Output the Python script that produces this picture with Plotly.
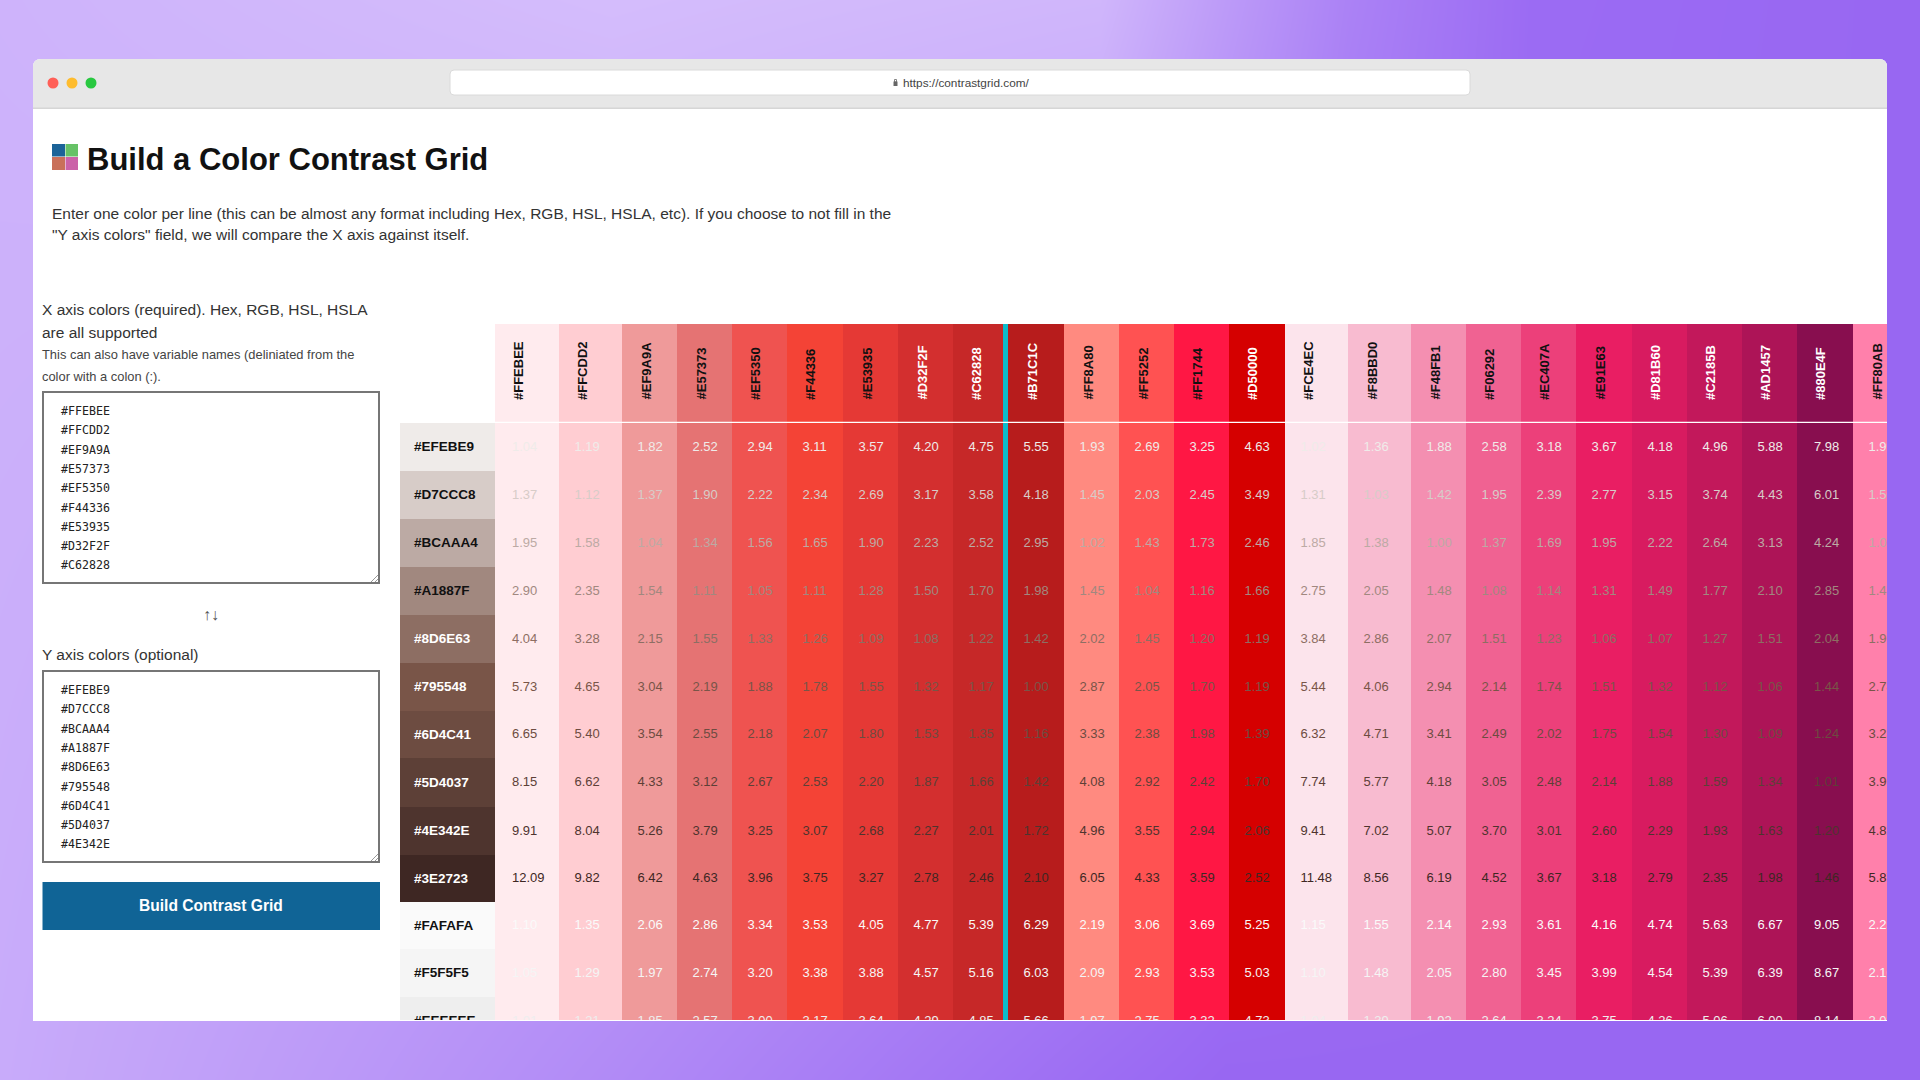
import plotly.graph_objects as go

# colors under test, x axis then y axis
col_colors = ['#FFEBEE', '#FFCDD2', '#EF9A9A', '#E57373', '#EF5350', '#F44336', '#E53935', '#D32F2F', '#C62828',
              '#B71C1C', '#FF8A80', '#FF5252', '#FF1744', '#D50000', '#FCE4EC', '#F8BBD0', '#F48FB1', '#F06292',
              '#EC407A', '#E91E63', '#D81B60', '#C2185B', '#AD1457', '#880E4F', '#FF80AB']
row_colors = ['#EFEBE9', '#D7CCC8', '#BCAAA4', '#A1887F', '#8D6E63', '#795548', '#6D4C41', '#5D4037', '#4E342E',
              '#3E2723', '#FAFAFA', '#F5F5F5', '#EEEEEE']

# contrast ratios, one list per row
r_efebe9 = [1.04, 1.19, 1.82, 2.52, 2.94, 3.11, 3.57, 4.20, 4.75, 5.55, 1.93, 2.69, 3.25, 4.63, 1.02, 1.36, 1.88, 2.58, 3.18, 3.67, 4.18, 4.96, 5.88, 7.98, 1.99]
r_d7ccc8 = [1.37, 1.12, 1.37, 1.90, 2.22, 2.34, 2.69, 3.17, 3.58, 4.18, 1.45, 2.03, 2.45, 3.49, 1.31, 1.03, 1.42, 1.95, 2.39, 2.77, 3.15, 3.74, 4.43, 6.01, 1.50]
r_bcaaa4 = [1.95, 1.58, 1.04, 1.34, 1.56, 1.65, 1.90, 2.23, 2.52, 2.95, 1.02, 1.43, 1.73, 2.46, 1.85, 1.38, 1.00, 1.37, 1.69, 1.95, 2.22, 2.64, 3.13, 4.24, 1.05]
r_a1887f = [2.90, 2.35, 1.54, 1.11, 1.05, 1.11, 1.28, 1.50, 1.70, 1.98, 1.45, 1.04, 1.16, 1.66, 2.75, 2.05, 1.48, 1.08, 1.14, 1.31, 1.49, 1.77, 2.10, 2.85, 1.41]
r_8d6e63 = [4.04, 3.28, 2.15, 1.55, 1.33, 1.26, 1.09, 1.08, 1.22, 1.42, 2.02, 1.45, 1.20, 1.19, 3.84, 2.86, 2.07, 1.51, 1.23, 1.06, 1.07, 1.27, 1.51, 2.04, 1.96]
r_795548 = [5.73, 4.65, 3.04, 2.19, 1.88, 1.78, 1.55, 1.32, 1.17, 1.00, 2.87, 2.05, 1.70, 1.19, 5.44, 4.06, 2.94, 2.14, 1.74, 1.51, 1.32, 1.12, 1.06, 1.44, 2.78]
r_6d4c41 = [6.65, 5.40, 3.54, 2.55, 2.18, 2.07, 1.80, 1.53, 1.35, 1.16, 3.33, 2.38, 1.98, 1.39, 6.32, 4.71, 3.41, 2.49, 2.02, 1.75, 1.54, 1.30, 1.09, 1.24, 3.23]
r_5d4037 = [8.15, 6.62, 4.33, 3.12, 2.67, 2.53, 2.20, 1.87, 1.66, 1.42, 4.08, 2.92, 2.42, 1.70, 7.74, 5.77, 4.18, 3.05, 2.48, 2.14, 1.88, 1.59, 1.34, 1.01, 3.96]
r_4e342e = [9.91, 8.04, 5.26, 3.79, 3.25, 3.07, 2.68, 2.27, 2.01, 1.72, 4.96, 3.55, 2.94, 2.06, 9.41, 7.02, 5.07, 3.70, 3.01, 2.60, 2.29, 1.93, 1.63, 1.20, 4.82]
r_3e2723 = [12.09, 9.82, 6.42, 4.63, 3.96, 3.75, 3.27, 2.78, 2.46, 2.10, 6.05, 4.33, 3.59, 2.52, 11.48, 8.56, 6.19, 4.52, 3.67, 3.18, 2.79, 2.35, 1.98, 1.46, 5.87]
r_fafafa = [1.10, 1.35, 2.06, 2.86, 3.34, 3.53, 4.05, 4.77, 5.39, 6.29, 2.19, 3.06, 3.69, 5.25, 1.15, 1.55, 2.14, 2.93, 3.61, 4.16, 4.74, 5.63, 6.67, 9.05, 2.25]
r_f5f5f5 = [1.05, 1.29, 1.97, 2.74, 3.20, 3.38, 3.88, 4.57, 5.16, 6.03, 2.09, 2.93, 3.53, 5.03, 1.10, 1.48, 2.05, 2.80, 3.45, 3.99, 4.54, 5.39, 6.39, 8.67, 2.16]
r_eeeeee = [1.01, 1.21, 1.85, 2.57, 3.00, 3.17, 3.64, 4.29, 4.85, 5.66, 1.97, 2.75, 3.32, 4.73, 1.04, 1.39, 1.92, 2.64, 3.24, 3.75, 4.26, 5.06, 6.00, 8.14, 2.03]
ratios = [r_efebe9, r_d7ccc8, r_bcaaa4, r_a1887f, r_8d6e63, r_795548, r_6d4c41, r_5d4037, r_4e342e, r_3e2723,
          r_fafafa, r_f5f5f5, r_eeeeee]

# page backdrop levels, 0 = light lilac, 1 = strong violet
bg_x = [0, 612, 1100, 1225, 1347, 1530, 1920]
bg_y = [0, 1080]
bg_top = [0.13, 0.03, 0.1, 0.4, 0.67, 0.92, 0.97]
bg_bottom = [0.22, 0.58, 0.9, 0.97, 0.97, 0.97, 0.97]

title = 'Build a Color Contrast Grid'
intro = ['Enter one color per line (this can be almost any format including Hex, RGB, HSL, HSLA, etc). If you choose to not fill in the',
         '"Y axis colors" field, we will compare the X axis against itself.']
x_label = ['X axis colors (required). Hex, RGB, HSL, HSLA', 'are all supported']
x_hint = ['This can also have variable names (deliniated from the', 'color with a colon (:).']
y_label = 'Y axis colors (optional)'
button = 'Build Contrast Grid'
url = 'https://contrastgrid.com/'

# column lefts in page pixels, the widths vary because the table fits to content
col_left = [495, 559, 622, 677, 732, 787, 843, 898, 953, 1003, 1064, 1119, 1174, 1229, 1285, 1348, 1411, 1466, 1521,
            1576, 1632, 1687, 1742, 1797, 1853, 1908]
col_width = [b - a for a, b in zip(col_left, col_left[1:])]
row_tops = [423, 471, 519, 567, 615, 663, 711, 758, 807, 855, 902, 949, 997, 1045]
row_height = [b - a for a, b in zip(row_tops, row_tops[1:])]
row_mid = [(a + b) / 2 + 0.7 for a, b in zip(row_tops, row_tops[1:])]
light_headers = ['#D32F2F', '#C62828', '#B71C1C', '#D50000', '#D81B60', '#C2185B', '#AD1457', '#880E4F']
light_labels = ['#8D6E63', '#795548', '#6D4C41', '#5D4037', '#4E342E', '#3E2723']

SANS = 'Liberation Sans'
shapes = []
notes = []


def page_shape(kind, x0=None, y0=None, x1=None, y1=None, fill='rgba(0,0,0,0)', line=None, width=0, path=None, ref='2', layer='below'):
    s = dict(type=kind, xref='x' + ref, yref='y' + ref, fillcolor=fill, layer=layer,
             line=dict(color=line or 'rgba(0,0,0,0)', width=width))
    if path:
        s['path'] = path
    else:
        s.update(x0=x0, y0=y0, x1=x1, y1=y1)
    shapes.append(s)


def note(x, y, text, size=16, color='#333333', family=SANS, anchor='left', angle=0, yanchor='middle', ref='2'):
    notes.append(dict(x=x, y=y, xref='x' + ref, yref='y' + ref, text=text, showarrow=False, xanchor=anchor,
                      yanchor=yanchor, textangle=angle, font=dict(family=family, size=size, color=color)))


fig = go.Figure()

# backdrop
fig.add_trace(go.Heatmap(x=bg_x, y=bg_y, z=[bg_top, bg_bottom], zsmooth='best', showscale=False, hoverinfo='skip',
                         colorscale=[[0, '#D6BFFC'], [1, '#9664F2']], zmin=0, zmax=1, xaxis='x', yaxis='y'))

# browser window
page_shape('path', path='M33,1021 L33,67 Q33,59 41,59 L1879,59 Q1887,59 1887,67 L1887,1021 Z', fill='#FFFFFF')
page_shape('path', path='M33,108 L33,67 Q33,59 41,59 L1879,59 Q1887,59 1887,67 L1887,108 Z', fill='#E7E7E7')
page_shape('rect', 33, 107.5, 1887, 109, fill='#D6D6D6')
for cx, c in zip([53, 72, 91], ['#FF5F57', '#FEBC2E', '#28C840']):
    page_shape('circle', cx - 5.5, 77.5, cx + 5.5, 88.5, fill=c)
page_shape('path', path='M454,70 L1466,70 Q1470,70 1470,74 L1470,91 Q1470,95 1466,95 L454,95 Q450,95 450,91 L450,74 Q450,70 454,70 Z',
           fill='#FFFFFF', line='#DADADA', width=1)
page_shape('rect', 893.5, 81.5, 897.5, 86, fill='#666666')
page_shape('rect', 894.5, 79.5, 896.5, 82, line='#666666', width=0.8)
note(901, 83, url, size=11.8, color='#444444')

# logo
page_shape('rect', 52, 144, 65, 156.5, fill='#1B6398')
page_shape('rect', 65.5, 144, 78, 156.5, fill='#66C266')
page_shape('rect', 52, 157, 65, 170, fill='#C9705A')
page_shape('rect', 65.5, 157, 78, 170, fill='#CB62A8')
note(85, 159, '<b>%s</b>' % title, size=31, color='#111111')
note(50, 213, intro[0], size=15.5)
note(50, 234, intro[1], size=15.5)

# left form
note(40, 309, x_label[0], size=15.5)
note(40, 332, x_label[1], size=15.5)
note(40, 354, x_hint[0], size=12.9, color='#444444')
note(40, 376, x_hint[1], size=12.9, color='#444444')
for top, colors in [(391, col_colors[:9]), (670, row_colors[:9])]:
    page_shape('rect', 43, top + 1, 379, top + 192, fill='#FFFFFF', line='#767676', width=2)
    for k, c in enumerate(colors):
        note(59, top + 20 + k * 19.3, c, size=11.6, color='#222222', family='DejaVu Sans Mono')
    page_shape('line', 371, top + 191, 378, top + 184, line='#999999', width=1)
    page_shape('line', 375, top + 191, 378, top + 188, line='#999999', width=1)
note(211, 614, '↑↓', size=16, color='#555555', anchor='center')
note(40, 654, y_label, size=15.5)
page_shape('rect', 42.5, 882, 380, 930, fill='#106496')
note(211, 905, '<b>%s</b>' % button, size=15.6, color='#FFFFFF', anchor='center')

# grid columns run from the header down, row labels sit beside them
fig.add_trace(go.Bar(x=col_left[:-1], y=[1045 - 324] * len(col_colors), base=324, width=col_width, offset=0,
                     marker=dict(color=col_colors, line=dict(width=0)), hoverinfo='skip', xaxis='x3', yaxis='y3'))
fig.add_trace(go.Bar(x=[400] * len(row_colors), y=row_height, base=row_tops[:-1], width=95, offset=0,
                     marker=dict(color=row_colors, line=dict(width=0)), hoverinfo='skip', xaxis='x3', yaxis='y3'))
fig.add_trace(go.Scatter(x=[414] * len(row_colors), y=row_mid, mode='text', text=row_colors, textposition='middle right',
                         textfont=dict(family=SANS, size=13.5, weight='bold',
                                       color=['#FFFFFF' if c in light_labels else '#111111' for c in row_colors]),
                         hoverinfo='skip', xaxis='x3', yaxis='y3'))
pads = [17] + [15.5] * 8 + [20.5] + [15.5] * 13 + [17, 15.5]
xs = [left + pad for left, pad in zip(col_left, pads)]
for i, c in enumerate(row_colors):
    fig.add_trace(go.Scatter(x=xs, y=[row_mid[i]] * len(xs), mode='text', text=['%.2f' % v for v in ratios[i]],
                             textposition='middle right', textfont=dict(family=SANS, size=13, color=c),
                             hoverinfo='skip', xaxis='x3', yaxis='y3'))
for j, c in enumerate(col_colors):
    note(col_left[j] + (29 if j == 9 else 23.5), 402, '<b>%s</b>' % c, size=13, angle=-90, yanchor='bottom', anchor='center', ref='3',
         color='#FFFFFF' if c in light_headers else '#111111')

page_shape('rect', 1003, 324, 1008, 1020, fill='#0DBBCB', ref='3', layer='above')
page_shape('rect', 495, 421.8, 1887, 423, fill='#FFFFFF', ref='3', layer='above')

axis = dict(visible=False, fixedrange=True)
fig.update_layout(
    width=1920, height=1080, margin=dict(l=0, r=0, t=0, b=0), showlegend=False, barmode='overlay',
    paper_bgcolor='#FFFFFF', plot_bgcolor='rgba(0,0,0,0)', shapes=shapes, annotations=notes,
    xaxis=dict(range=[0, 1920], domain=[0, 1], **axis),
    yaxis=dict(range=[1080, 0], domain=[0, 1], **axis),
    xaxis2=dict(range=[0, 1920], domain=[0, 1], **axis),
    yaxis2=dict(range=[1080, 0], domain=[0, 1], **axis),
    xaxis3=dict(range=[400, 1887], domain=[400 / 1920, 1887 / 1920], **axis),
    yaxis3=dict(range=[1020, 324], domain=[1 - 1020 / 1080, 1 - 324 / 1080], **axis),
)
# dummy trace so the page axes exist for the window shapes
fig.add_trace(go.Scatter(x=[None], y=[None], xaxis='x2', yaxis='y2', hoverinfo='skip'))

fig.write_html("out.html", post_script="document.body.style.margin='0';", config=dict(displayModeBar=False))
